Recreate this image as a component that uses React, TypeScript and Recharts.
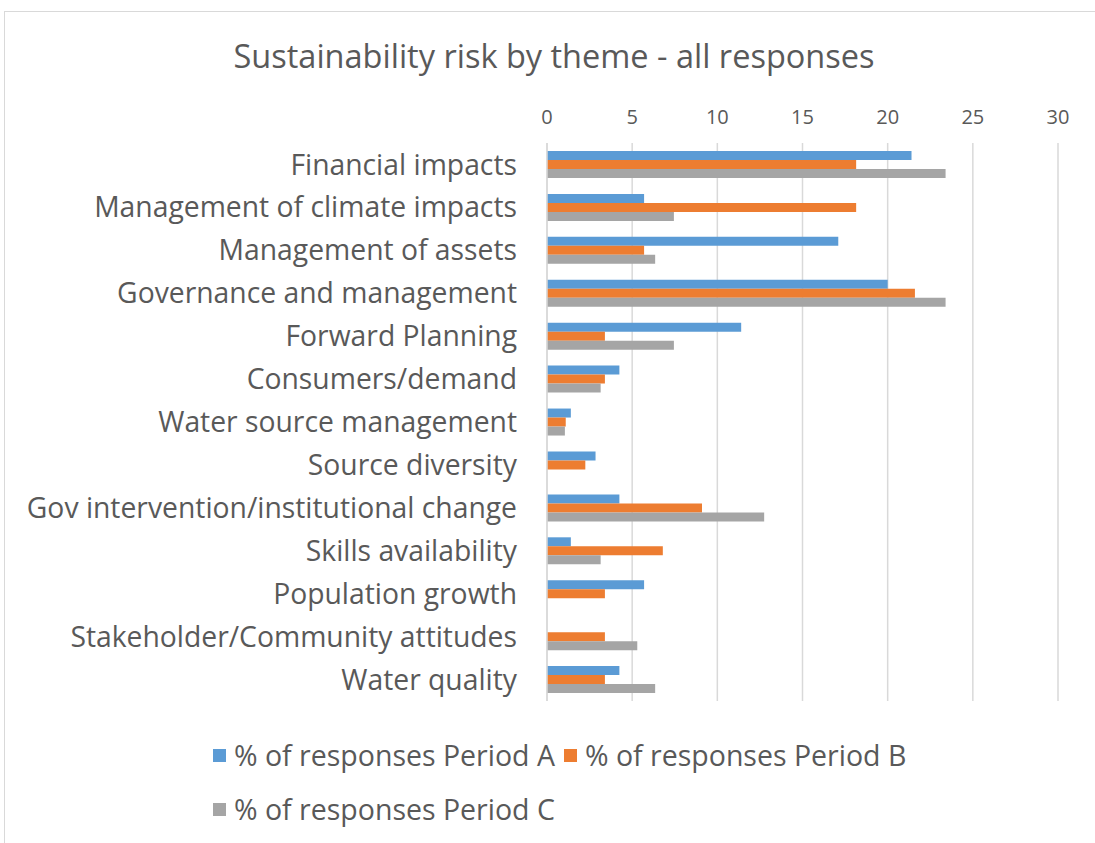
import React from "react";
import { BarChart, Bar, XAxis, YAxis, CartesianGrid, Legend } from "recharts";

const categories = [
  "Financial impacts",
  "Management of climate impacts",
  "Management of assets",
  "Governance and management",
  "Forward Planning",
  "Consumers/demand",
  "Water source management",
  "Source diversity",
  "Gov intervention/institutional change",
  "Skills availability",
  "Population growth",
  "Stakeholder/Community attitudes",
  "Water quality",
];
const periodA = [21.4, 5.7, 17.1, 20.0, 11.4, 4.25, 1.4, 2.85, 4.25, 1.4, 5.7, 0, 4.25];
const periodB = [18.15, 18.15, 5.7, 21.6, 3.4, 3.4, 1.1, 2.25, 9.1, 6.8, 3.4, 3.4, 3.4];
const periodC = [23.4, 7.45, 6.35, 23.4, 7.45, 3.15, 1.05, 0, 12.75, 3.15, 0, 5.3, 6.35];
const xTicks = [0, 5, 10, 15, 20, 25, 30];
const seriesNames = ["% of responses Period A", "% of responses Period B", "% of responses Period C"];
const colors = ["#5b9bd5", "#ed7d31", "#a5a5a5"];
const title = "Sustainability risk by theme - all responses";

const data = categories.map((c, i) => ({
  name: c,
  a: periodA[i],
  b: periodB[i],
  c: periodC[i],
}));

const FONT = "'Open Sans', sans-serif";
const TEXT = "#595959";

const renderLegend = (props: any) => {
  const { payload } = props;
  return (
    <div style={{ display: "flex", flexWrap: "wrap", width: 720, fontFamily: FONT, fontSize: 28.5, lineHeight: "36px", color: TEXT, rowGap: 18 }}>
      {payload.map((p: any) => (
        <div key={p.value} style={{ display: "flex", alignItems: "center", marginRight: 9 }}>
          <div style={{ width: 13, height: 13, background: p.color, marginRight: 8 }} />
          <span>{p.value}</span>
        </div>
      ))}
    </div>
  );
};

export default function App() {
  return (
    <div style={{ position: "absolute", left: 0, top: 0, width: 1095, height: 843, background: "#fff", overflow: "hidden" }}>
      <div style={{ position: "absolute", left: 4, top: 11, width: 1200, height: 900, border: "1px solid #d9d9d9" }} />
      <div
        style={{
          position: "absolute",
          left: 0,
          width: 1108,
          top: 33,
          textAlign: "center",
          fontFamily: FONT,
          fontSize: 32.5,
          color: TEXT,
        }}
      >
        {title}
      </div>
      <div style={{ position: "absolute", left: 0, top: 0 }}>
        <BarChart
          width={1095}
          height={843}
          data={data}
          layout="vertical"
          margin={{ top: 103, right: 37, bottom: 52, left: 0 }}
          barGap={0}
          barSize={9}
        >
          <CartesianGrid horizontal={false} vertical={true} stroke="#d9d9d9" strokeWidth={1.5} />
          <XAxis
            type="number"
            orientation="top"
            domain={[0, 30]}
            ticks={xTicks}
            height={40}
            axisLine={false}
            tickLine={false}
            tickSize={0}
            tickMargin={19}
            tick={{ fill: TEXT, fontSize: 20, fontFamily: FONT }}
          />
          <YAxis
            type="category"
            dataKey="name"
            width={547}
            axisLine={{ stroke: "#d9d9d9", strokeWidth: 1.5 }}
            tickLine={false}
            tickSize={0}
            tickMargin={30}
            interval={0}
            tick={{ fill: TEXT, fontSize: 28.3, fontFamily: FONT }}
          />
          <Legend
            content={renderLegend}
            verticalAlign="bottom"
            wrapperStyle={{ position: "absolute", left: 213, top: 737, width: 720 }}
          />
          <Bar dataKey="a" name={seriesNames[0]} fill={colors[0]} isAnimationActive={false} />
          <Bar dataKey="b" name={seriesNames[1]} fill={colors[1]} isAnimationActive={false} />
          <Bar dataKey="c" name={seriesNames[2]} fill={colors[2]} isAnimationActive={false} />
        </BarChart>
      </div>
    </div>
  );
}
